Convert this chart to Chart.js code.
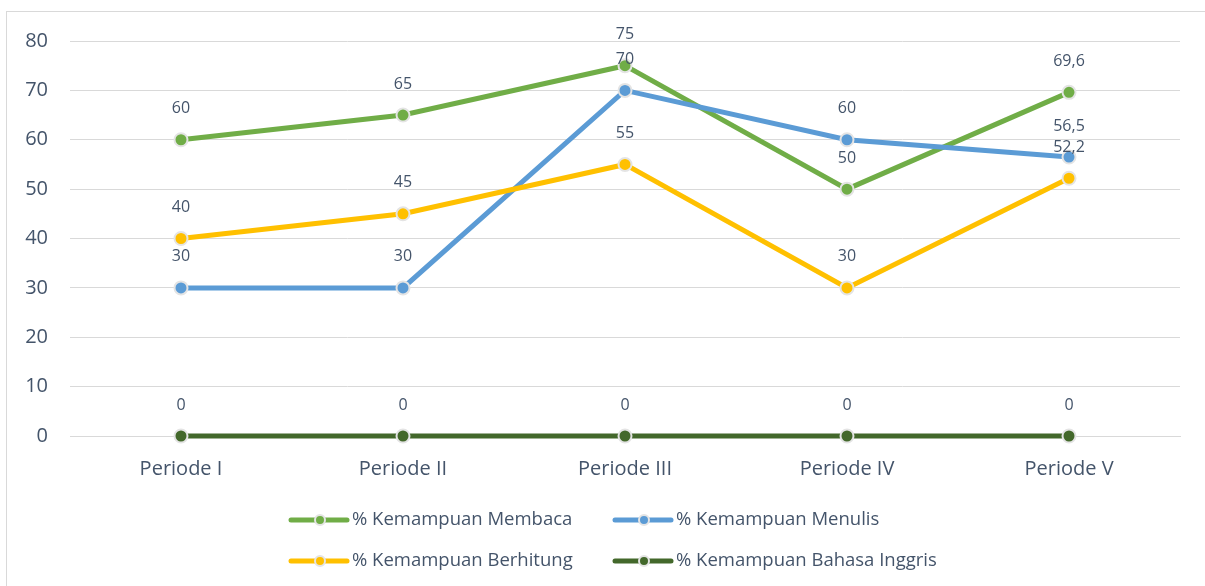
<!DOCTYPE html>
<html>
<head>
<meta charset="utf-8">
<script src="https://cdn.jsdelivr.net/npm/chart.js@4/dist/chart.umd.min.js"></script>
<style>
  html, body { margin: 0; padding: 0; background: #fff; }
  #wrap { width: 1205px; height: 586px; position: relative; }
</style>
</head>
<body>
<div id="wrap"><canvas id="grafik" width="1205" height="586"></canvas></div>
<script>
const periode = ['Periode I', 'Periode II', 'Periode III', 'Periode IV', 'Periode V'];
const membaca = [60, 65, 75, 50, 69.6];
const menulis = [30, 30, 70, 60, 56.5];
const berhitung = [40, 45, 55, 30, 52.2];
const bahasaInggris = [0, 0, 0, 0, 0];

const namaSeri = ['% Kemampuan Membaca', '% Kemampuan Menulis', '% Kemampuan Berhitung', '% Kemampuan Bahasa Inggris'];
const warnaSeri = ['#70AD47', '#5B9BD5', '#FFC000', '#43682B'];
const nilaiSeri = [membaca, menulis, berhitung, bahasaInggris];

const warnaTeks = '#44546A';
const fonte = '"Open Sans", sans-serif';

function formatAngka(v) {
    return String(v).replace('.', ',');
}

// label nilai di atas setiap titik
const pluginLabel = {
    id: 'labelNilai',
    afterDatasetsDraw(chart) {
        const ctx = chart.ctx;
        ctx.save();
        ctx.font = '16px ' + fonte;
        ctx.fillStyle = warnaTeks;
        ctx.textAlign = 'center';
        ctx.textBaseline = 'middle';
        chart.data.datasets.forEach((ds, i) => {
            const meta = chart.getDatasetMeta(i);
            meta.data.forEach((pt, j) => {
                ctx.fillText(formatAngka(ds.data[j]), pt.x, pt.y - 31);
            });
        });
        ctx.restore();
    }
};

// bingkai luar + legenda dua baris
const pluginBingkai = {
    id: 'bingkai',
    beforeDraw(chart) {
        const ctx = chart.ctx;
        ctx.save();
        ctx.strokeStyle = '#D9D9D9';
        ctx.lineWidth = 1;
        ctx.strokeRect(6.5, 11.5, 1210, 600);
        ctx.restore();
    },
    afterDraw(chart) {
        const ctx = chart.ctx;
        const posisi = [[291, 520], [615, 520], [291, 561], [615, 561]];
        ctx.save();
        ctx.font = '18.5px ' + fonte;
        ctx.textBaseline = 'middle';
        ctx.textAlign = 'left';
        namaSeri.forEach((nama, i) => {
            const [x, y] = posisi[i];
            ctx.strokeStyle = warnaSeri[i];
            ctx.lineWidth = 5;
            ctx.lineCap = 'round';
            ctx.beginPath();
            ctx.moveTo(x, y);
            ctx.lineTo(x + 56, y);
            ctx.stroke();
            ctx.beginPath();
            ctx.arc(x + 29, y, 5, 0, Math.PI * 2);
            ctx.fillStyle = warnaSeri[i];
            ctx.fill();
            ctx.lineWidth = 2;
            ctx.strokeStyle = '#E4E4E4';
            ctx.stroke();
            ctx.fillStyle = warnaTeks;
            ctx.fillText(nama, x + 61, y);
        });
        ctx.restore();
    }
};

const ctxGrafik = document.getElementById('grafik').getContext('2d');
new Chart(ctxGrafik, {
    type: 'line',
    data: {
        labels: periode,
        datasets: namaSeri.map((nama, i) => ({
            label: nama,
            data: nilaiSeri[i],
            borderColor: warnaSeri[i],
            backgroundColor: warnaSeri[i],
            borderWidth: 5,
            pointRadius: 6.5,
            pointHoverRadius: 6.5,
            pointBorderWidth: 2,
            pointBorderColor: '#E4E4E4',
            pointBackgroundColor: warnaSeri[i],
            tension: 0,
            clip: false,
            order: 4 - i
        }))
    },
    options: {
        responsive: false,
        animation: false,
        layout: { padding: { top: 41, right: 25, left: 0, bottom: 0 } },
        plugins: {
            legend: { display: false },
            tooltip: { enabled: false }
        },
        scales: {
            y: {
                min: 0,
                max: 80,
                ticks: {
                    stepSize: 10,
                    padding: 22,
                    color: warnaTeks,
                    font: { family: fonte, size: 20 }
                },
                grid: { color: '#D9D9D9', drawTicks: false },
                border: { display: false },
                afterFit(scale) { scale.width = 70; }
            },
            x: {
                offset: true,
                ticks: {
                    padding: 13,
                    color: warnaTeks,
                    font: { family: fonte, size: 20 }
                },
                grid: { display: false },
                border: { display: true, color: '#D9D9D9' },
                afterFit(scale) { scale.height = 150; }
            }
        }
    },
    plugins: [pluginLabel, pluginBingkai]
});
</script>
</body>
</html>
